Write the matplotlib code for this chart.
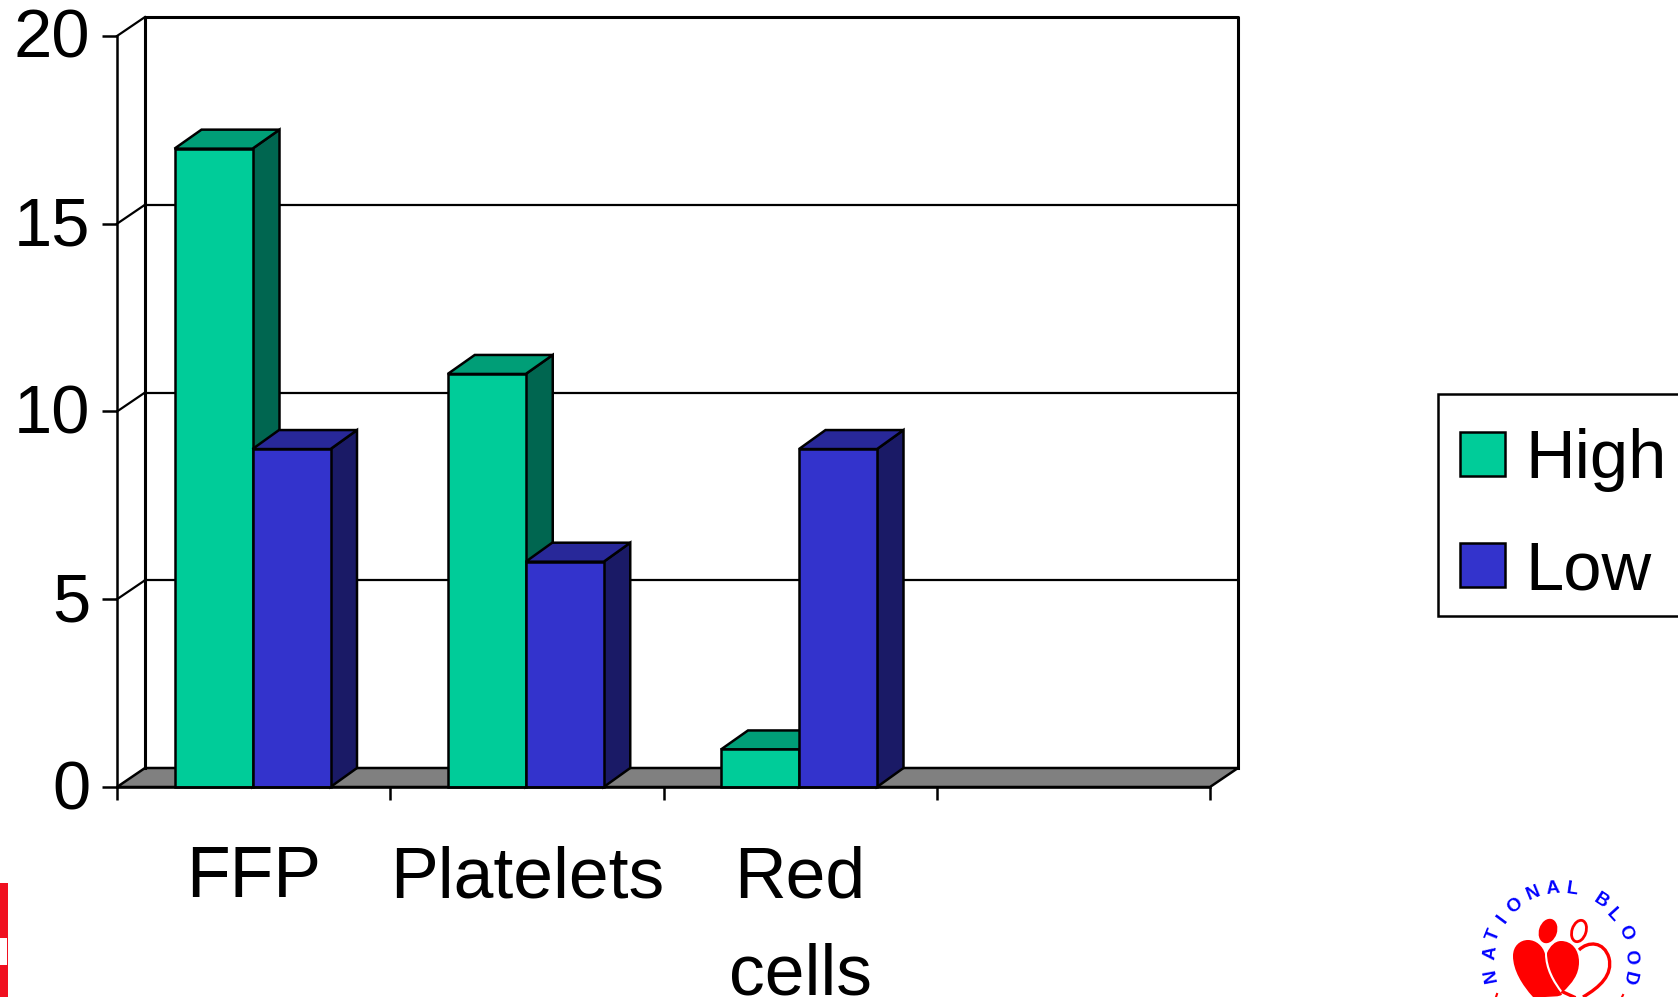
import matplotlib
matplotlib.use('Agg')
import matplotlib.pyplot as plt
from matplotlib.patches import Polygon, Rectangle, Ellipse, PathPatch
from matplotlib.path import Path
from matplotlib.transforms import ScaledTranslation
import numpy as np

plt.rcParams['font.family'] = ['Liberation Sans', 'DejaVu Sans']

categories = ['FFP', 'Platelets', 'Red\ncells']
high = [17, 11, 1]
low = [9, 6, 9]
y_ticks = [0, 5, 10, 15, 20]

W, H = 1678, 997
LW = 1.8
FONT = 49.5

# colours for front, top and side of each bar
teal = ('#00CC99', '#009E77', '#006650')
blue = ('#3333CC', '#282899', '#1A1A66')

fig = plt.figure(figsize=(W / 100, H / 100), dpi=100)
ax = fig.add_axes([117 / W, (H - 787) / H, 1093 / W, 751 / H])
ax.set_xlim(0, 4)
ax.set_ylim(0, 20)

# one unit on each axis in pixels
px = 1093 / 4
py = 751 / 20
depth_x = 28 / px
depth_y = 19 / py


def poly(points, color, z=2, lw=LW):
    ax.add_patch(Polygon(points, closed=True, facecolor=color, edgecolor='black',
                         linewidth=lw, joinstyle='miter', clip_on=False, zorder=z))


def line(xs, ys, lw=LW, z=1.5):
    ax.plot(xs, ys, color='black', lw=lw, clip_on=False, zorder=z, solid_capstyle='projecting')


# floor and back wall
poly([(0, 0), (4, 0), (4 + depth_x, depth_y), (depth_x, depth_y)], '#808080', z=1)
line([depth_x, depth_x, 4 + depth_x, 4 + depth_x], [depth_y, 20 + depth_y, 20 + depth_y, depth_y], lw=2.2)
for v in y_ticks[1:]:
    line([0, depth_x], [v, v + depth_y], lw=1.6)
    if v < 20:
        line([depth_x, 4 + depth_x], [v + depth_y, v + depth_y], lw=1.6)


def bar(x0, width, value, colors, dx):
    front, top, side = colors
    x1 = x0 + width
    poly([(x1, 0), (x1 + dx, depth_y), (x1 + dx, value + depth_y), (x1, value)], side, z=3)
    poly([(x0, value), (x1, value), (x1 + dx, value + depth_y), (x0 + dx, value + depth_y)], top, z=3)
    poly([(x0, 0), (x1, 0), (x1, value), (x0, value)], front, z=3)


offset = 57.5 / px
bar_w = 78 / px
for i in range(len(categories)):
    bar(i + offset, bar_w, high[i], teal, 27 / px)
    bar(i + offset + bar_w, bar_w, low[i], blue, 26.5 / px)

# axes
for name in ['top', 'right']:
    ax.spines[name].set_visible(False)
for name in ['left', 'bottom']:
    ax.spines[name].set_linewidth(LW)
    ax.spines[name].set_zorder(4)
ax.set_yticks(y_ticks)
ax.set_yticklabels([str(v) for v in y_ticks], fontsize=FONT)
ax.tick_params(axis='y', length=10.5, width=LW, pad=8)
# nudge the value labels up a little
nudge = ScaledTranslation(-1 / 100, 3 / 100, fig.dpi_scale_trans)
for label in ax.get_yticklabels():
    label.set_transform(label.get_transform() + nudge)
ax.set_xticks(range(5))
ax.set_xticklabels([])
ax.tick_params(axis='x', which='major', length=9.5, width=LW)
ax.set_xticks(np.arange(len(categories)) + 0.5, minor=True)
ax.set_xticklabels(categories, minor=True, fontsize=51.5, linespacing=1.58)
ax.tick_params(axis='x', which='minor', length=0, pad=42)

# overlay in pixel coordinates for the legend and the logos
over = fig.add_axes([0, 0, 1, 1], facecolor='none')
over.set_xlim(0, W)
over.set_ylim(H, 0)
over.axis('off')

over.add_patch(Rectangle((1438, 394), 260, 222, facecolor='white', edgecolor='black', lw=LW))
legend_labels = ['High', 'Low']
legend_colors = [teal[0], blue[0]]
legend_base = [478, 589]
for label, color, base in zip(legend_labels, legend_colors, legend_base):
    over.add_patch(Rectangle((1460, base - 46), 45, 44, facecolor=color, edgecolor='black', lw=LW))
    over.text(1525, base, label, fontsize=FONT, va='baseline', ha='left')

# strip of the left logo
over.add_patch(Rectangle((0, 883), 7.5, 114, facecolor='#F01020', edgecolor='none'))
over.add_patch(Rectangle((0, 938), 6.5, 27, facecolor='white', edgecolor='none'))

# blood service logo, curved lettering
letters = 'NATIONALBLOOD'
letter_x = [1491, 1491, 1494, 1503, 1515, 1533, 1553, 1572, 1601, 1613, 1625, 1630, 1629]
letter_y = [975, 953, 935, 919, 906, 893, 889, 889, 901, 915, 933, 957, 978]
cx, cy = 1561, 962
for ch, lx, ly in zip(letters, letter_x, letter_y):
    angle = np.degrees(np.arctan2(lx - cx, cy - ly))
    over.text(lx, ly, ch, color='#0000FF', fontsize=13.5, fontweight='bold', ha='center', va='center',
              rotation=-angle, rotation_mode='anchor')


def blob(points, **kw):
    codes = [Path.MOVETO] + [Path.CURVE4] * (len(points) - 1)
    over.add_patch(PathPatch(Path(points, codes), **kw))


red = '#FF0000'
# left lobe
blob([(1513, 956), (1513, 946), (1520, 940), (1528, 940),
      (1536, 940), (1543, 946), (1545, 954),
      (1545, 968), (1552, 982), (1562, 994),
      (1562, 997), (1550, 997), (1533, 997),
      (1522, 985), (1513, 970), (1513, 956)], facecolor=red, edgecolor='none')
# middle lobe
blob([(1547, 953), (1550, 946), (1555, 941), (1561, 941),
      (1572, 941), (1579, 950), (1579, 962),
      (1579, 975), (1572, 983), (1563, 992),
      (1555, 982), (1547, 968), (1547, 953)], facecolor=red, edgecolor='none')
# outlined right side of the heart
blob([(1579, 950), (1588, 941), (1604, 941), (1609, 958),
      (1613, 975), (1600, 987), (1583, 997)], facecolor='none', edgecolor=red, lw=2.4)
over.plot([1563, 1574], [992, 997], color=red, lw=2.4)
# heads
over.add_patch(Ellipse((1548, 931), 18, 25, angle=18, facecolor=red, edgecolor='none'))
over.add_patch(Ellipse((1579, 931), 14, 22, angle=18, facecolor='white', edgecolor=red, lw=2))
over.plot([1496, 1497], [997, 994], color=red, lw=1.5)
over.plot([1622, 1623], [997, 995], color=red, lw=1.5)

fig.savefig('out.png', dpi=100)
